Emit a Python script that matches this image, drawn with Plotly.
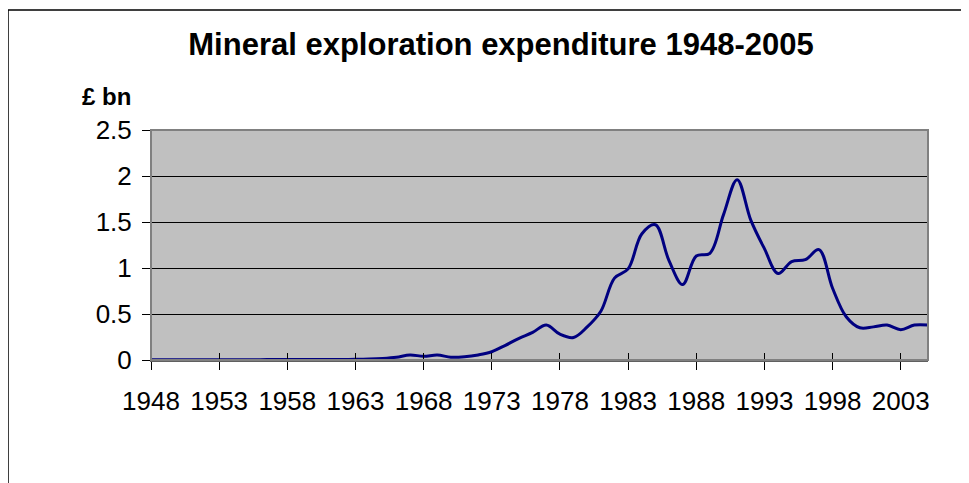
import plotly.graph_objects as go

# the page body has an 8px margin, so the figure is drawn 8px in and 8px down
OFF = 8
W, H = 969 - OFF, 483 - OFF
L, R, T, B = 151 - OFF, 928 - OFF, 130 - OFF, 360 - OFF  # plot area in figure pixels

YEARS = list(range(1948, 2006))
SPEND = [
    0.002, 0.002, 0.002, 0.003, 0.003, 0.003, 0.004, 0.004, 0.004, 0.005,
    0.005, 0.005, 0.005, 0.006, 0.006, 0.007, 0.010, 0.017, 0.030, 0.055,
    0.040, 0.054, 0.030, 0.035, 0.055, 0.090, 0.160, 0.235, 0.300, 0.380,
    0.280, 0.245, 0.360, 0.530, 0.890, 0.990, 1.370, 1.470, 1.080, 0.820,
    1.130, 1.160, 1.580, 1.960, 1.520, 1.210, 0.940, 1.070, 1.090, 1.200,
    0.780, 0.470, 0.350, 0.360, 0.380, 0.330, 0.380, 0.380,
]
TICK_YEARS = [1948, 1953, 1958, 1963, 1968, 1973, 1978, 1983, 1988, 1993, 1998, 2003]
Y_TICKS = [0, 0.5, 1, 1.5, 2, 2.5]
Y_LABELS = ["0", "0.5", "1", "1.5", "2", "2.5"]

FONT = "Liberation Sans, Arial, sans-serif"
LINE = "#000080"


def px_x(p):
    # screen pixel -> paper x
    return (p - OFF - L) / (R - L)


def px_y(p):
    # screen pixel -> paper y
    return (B - (p - OFF)) / (B - T)


fig = go.Figure()
fig.add_trace(go.Scatter(
    x=YEARS,
    y=SPEND,
    mode="lines",
    line=dict(color=LINE, width=3, shape="spline", smoothing=1),
    showlegend=False,
    hovertemplate="%{x}<br>£%{y:.2f} bn<extra></extra>",
))
# empty trace so the overlay axis (inner half of the cross ticks) is drawn
fig.add_trace(go.Scatter(x=[], y=[], xaxis="x2", showlegend=False, hoverinfo="skip"))

fig.update_layout(
    width=W,
    height=H,
    margin=dict(l=L, r=W - R, t=T, b=H - B),
    paper_bgcolor="white",
    plot_bgcolor="#C0C0C0",
    font=dict(family=FONT, color="black", size=26),
    title=dict(
        text="<b>Mineral exploration expenditure 1948-2005</b>",
        font=dict(size=31, family=FONT, color="black"),
        x=(501 - OFF) / W, xref="container", xanchor="center",
        y=1 - (44 - OFF) / H, yref="container", yanchor="middle",
    ),
    xaxis=dict(
        range=[1948, 2005],
        tickmode="array",
        tickvals=TICK_YEARS,
        ticktext=[str(y) for y in TICK_YEARS],
        ticks="outside",
        ticklen=8,
        tickcolor="black",
        tickwidth=1,
        showgrid=False,
        zeroline=False,
        showline=True,
        linecolor="#606060",
        linewidth=2,
        ticklabelstandoff=9,
    ),
    xaxis2=dict(
        overlaying="x",
        matches="x",
        anchor="y",
        side="bottom",
        tickmode="array",
        tickvals=TICK_YEARS,
        ticks="inside",
        ticklen=7,
        tickcolor="black",
        tickwidth=1,
        showticklabels=False,
        showgrid=False,
        zeroline=False,
        showline=False,
    ),
    yaxis=dict(
        range=[0, 2.5],
        tickmode="array",
        tickvals=Y_TICKS,
        ticktext=Y_LABELS,
        ticks="outside",
        ticklen=8,
        tickcolor="black",
        tickwidth=1,
        showgrid=True,
        gridcolor="black",
        gridwidth=1,
        zeroline=False,
        showline=True,
        linecolor="black",
        linewidth=1,
        ticklabelstandoff=5,
    ),
    shapes=[
        # plot area border
        dict(type="rect", xref="paper", yref="paper", x0=0, y0=0, x1=1, y1=1,
             line=dict(color="#808080", width=2), layer="above"),
        # outer chart border
        dict(type="rect", xref="paper", yref="paper",
             x0=px_x(8), y0=px_y(H + 40), x1=px_x(W + 40), y1=px_y(10),
             line=dict(color="black", width=1.5), layer="above"),
    ],
    annotations=[
        dict(text="<b>£ bn</b>", xref="paper", yref="paper",
             x=px_x(80), y=px_y(97), xanchor="left", yanchor="middle",
             showarrow=False, font=dict(size=24, family=FONT, color="black")),
    ],
)

fig.write_html("out.html")
